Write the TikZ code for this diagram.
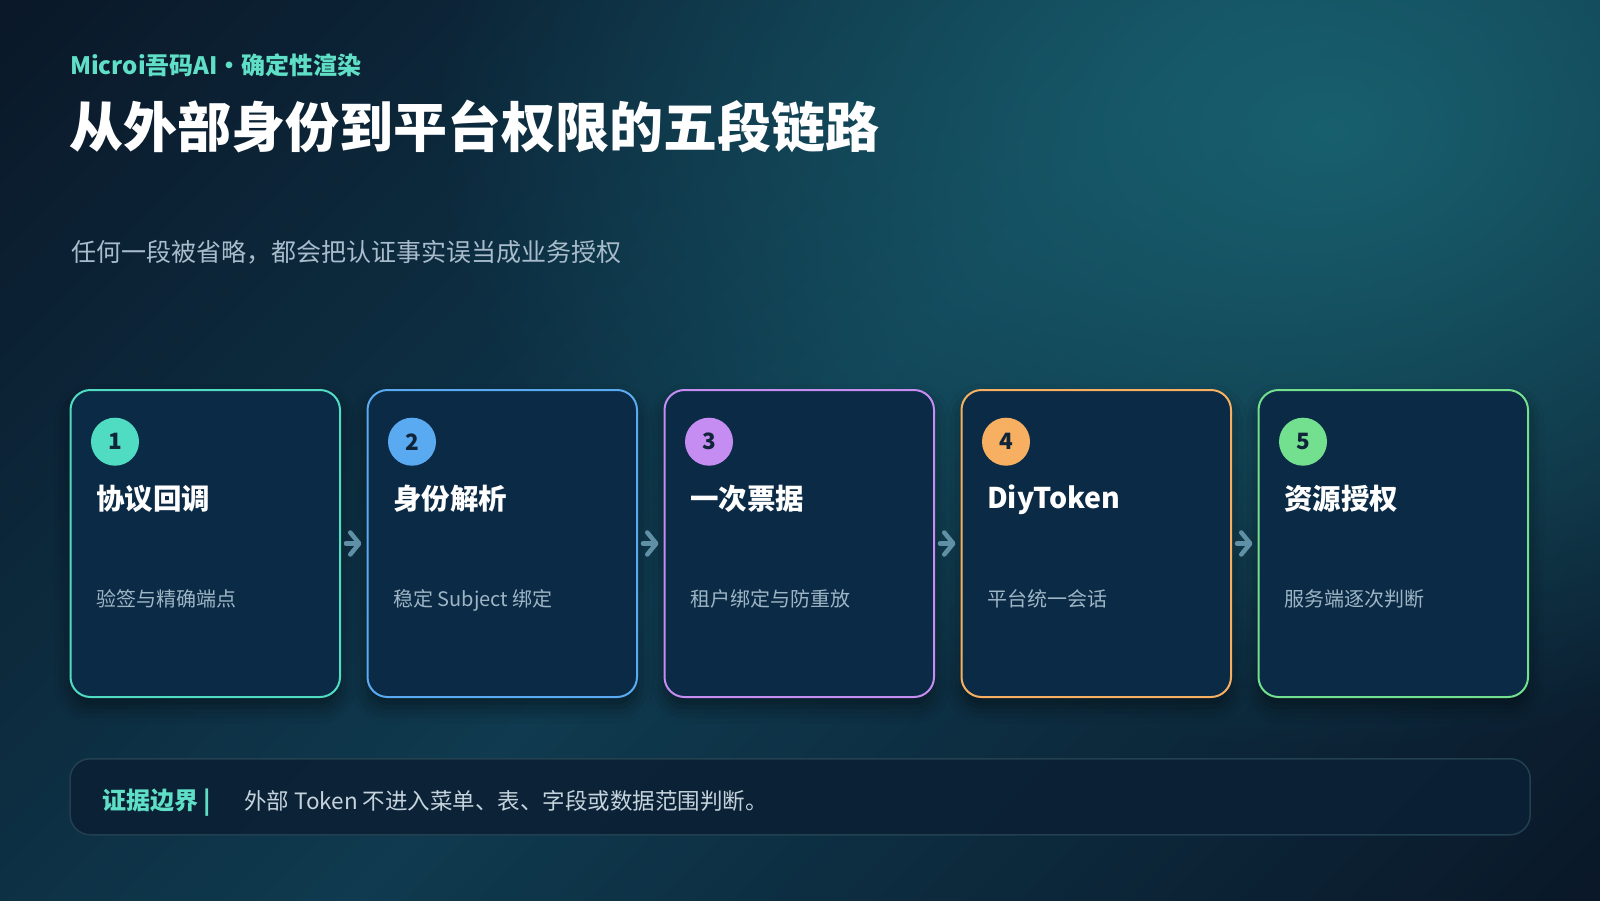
\documentclass[tikz,border=0pt]{standalone}
\usepackage{fontspec}
\setmainfont{Noto Sans CJK SC}
\usetikzlibrary{arrows.meta,shadows.blur,fadings}
\definecolor{bgdark}{HTML}{0A1829}
\definecolor{bgmid}{HTML}{0F3A4F}
\definecolor{glowc}{HTML}{1A6774}
\definecolor{cardfill}{HTML}{0B2A45}
\definecolor{cA}{HTML}{4FDCC2}
\definecolor{cB}{HTML}{5AAAF2}
\definecolor{cC}{HTML}{C58DF2}
\definecolor{cD}{HTML}{F7B062}
\definecolor{cE}{HTML}{72E08E}
\definecolor{teal}{HTML}{5FE0C6}
\definecolor{subc}{HTML}{9DB5C5}
\definecolor{sentc}{HTML}{A8BCCB}
\definecolor{numc}{HTML}{10243A}
\definecolor{arrc}{HTML}{6090A5}
\definecolor{barfill}{HTML}{0B2035}
\definecolor{barline}{HTML}{22404F}
\definecolor{bartext}{HTML}{C5D3DD}
\pgfdeclarehorizontalshading{diagbg}{100bp}{color(0bp)=(bgdark); color(15bp)=(bgdark); color(50bp)=(bgmid); color(85bp)=(bgdark); color(100bp)=(bgdark)}
\tikzfading[name=glowfade, inner color=transparent!15, outer color=transparent!100]
\newcommand{\fs}[1]{\fontsize{#1pt}{#1pt}\selectfont}
\begin{document}
\begin{tikzpicture}[x=1pt,y=-1pt,
  card/.style={draw=#1, line width=2pt, fill=cardfill, rounded corners=20pt,
    minimum width=269.5pt, minimum height=307pt, inner sep=0pt, anchor=north west,
    blur shadow={shadow xshift=0pt, shadow yshift=-10pt, shadow blur radius=16pt, shadow opacity=45}},
  numdot/.style={circle, fill=#1, minimum size=48pt, inner sep=0pt, text=numc, font=\fs{22.5}\bfseries},
  ttl/.style={anchor=base west, inner sep=0pt, text=white, font=\fs{28.5}\bfseries},
  sub/.style={anchor=base west, inner sep=0pt, text=subc, font=\fs{20}},
  arr/.style={draw=arrc, line width=4.5pt, line cap=round, shorten <=5pt, shorten >=5pt,
    -{Straight Barb[length=9pt, width=22pt, round]}}
]
\useasboundingbox (0,0) rectangle (1600,900);
% background
\shade[shading=diagbg, shading angle=-45] (0,0) rectangle (1600,900);
\fill[glowc, path fading=glowfade] (1330,130) ellipse [x radius=900, y radius=620];

% header
\node[anchor=base west, inner sep=0pt, text=teal, font=\fs{24}\bfseries] (kicker) at (70,74.5) {Microi吾码AI・确定性渲染};
\node[anchor=base west, inner sep=0pt, text=white, font=\fs{54}\bfseries] (title) at (69,147) {从外部身份到平台权限的五段链路};
\node[anchor=base west, inner sep=0pt, text=sentc, font=\fs{25}] (lead) at (71,261) {任何一段被省略，都会把认证事实误当成业务授权};

% cards
\node[card=cA] (c1) at (69.5,389) {};
\node[card=cB] (c2) at (366.5,389) {};
\node[card=cC] (c3) at (663.5,389) {};
\node[card=cD] (c4) at (960.5,389) {};
\node[card=cE] (c5) at (1257.5,389) {};

\node[numdot=cA] (n1) at (115,441.7) {1};
\node[numdot=cB] (n2) at (412,441.7) {2};
\node[numdot=cC] (n3) at (709,441.7) {3};
\node[numdot=cD] (n4) at (1006,441.7) {4};
\node[numdot=cE] (n5) at (1303,441.7) {5};

\node[ttl] (t1) at (96,509) {协议回调};
\node[ttl] (t2) at (393,509) {身份解析};
\node[ttl] (t3) at (690,509) {一次票据};
\node[ttl] (t4) at (987,508) {DiyToken};
\node[ttl] (t5) at (1284,509) {资源授权};

\node[sub] (s1) at (96,606.5) {验签与精确端点};
\node[sub] (s2) at (393,606.5) {稳定 Subject 绑定};
\node[sub] (s3) at (690,606.5) {租户绑定与防重放};
\node[sub] (s4) at (987,606.5) {平台统一会话};
\node[sub] (s5) at (1284,606.5) {服务端逐次判断};

\draw[arr] (c1.east) -- (c2.west);
\draw[arr] (c2.east) -- (c3.west);
\draw[arr] (c3.east) -- (c4.west);
\draw[arr] (c4.east) -- (c5.west);

% bottom bar
\node[draw=barline, line width=1.5pt, fill=barfill, fill opacity=0.9, draw opacity=1, rounded corners=20pt,
  minimum width=1460pt, minimum height=76pt, inner sep=0pt, anchor=north west] (bar) at (69.4,758) {};
\node[anchor=base west, inner sep=0pt, text=teal, font=\fs{24}\bfseries] (barlabel) at (102,809) {证据边界 |};
\node[anchor=base west, inner sep=0pt, text=bartext, font=\fs{22.5}] (bartxt) at (244,809) {外部 Token 不进入菜单、表、字段或数据范围判断。};
\end{tikzpicture}
\end{document}
